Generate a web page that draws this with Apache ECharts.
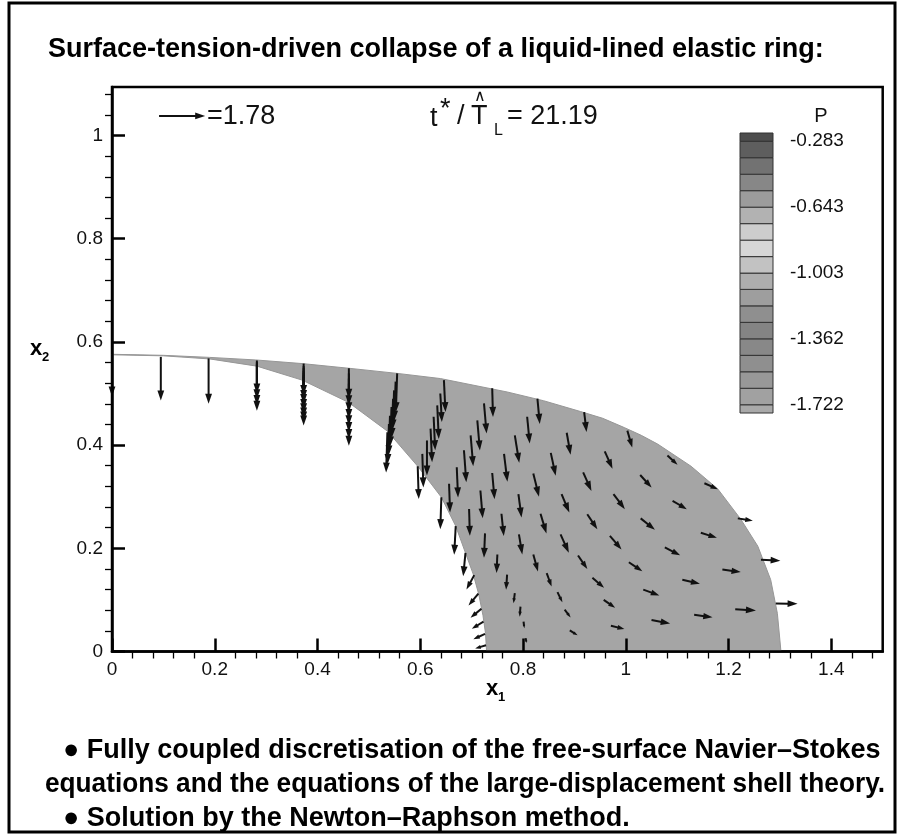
<!DOCTYPE html>
<html>
<head>
<meta charset="utf-8">
<script src="https://cdn.jsdelivr.net/npm/echarts@6/dist/echarts.min.js"></script>
<style>
  html, body { margin: 0; padding: 0; background: #fff; }
  #chart { width: 909px; height: 835px; }
</style>
</head>
<body>
<div id="chart"></div>
<script>
// ---- axes ----
var xTicks = [0, 0.2, 0.4, 0.6, 0.8, 1, 1.2, 1.4];
var yTicks = [0, 0.2, 0.4, 0.6, 0.8, 1];
var X_MAX = 1.5, Y_MAX = 1.094;

// ---- liquid film: wall (outer) and free surface (inner) ----
var outerX = [0, 0.10, 0.19, 0.28, 0.37, 0.46, 0.555, 0.639, 0.769, 0.84, 0.912, 0.955, 0.997, 1.03, 1.062, 1.127, 1.179, 1.224, 1.257, 1.282, 1.295, 1.302];
var outerY = [0.576, 0.574, 0.570, 0.565, 0.558, 0.549, 0.539, 0.529, 0.503, 0.486, 0.465, 0.452, 0.434, 0.419, 0.402, 0.359, 0.315, 0.256, 0.204, 0.139, 0.074, 0];
var innerX = [0, 0.10, 0.19, 0.282, 0.37, 0.46, 0.536, 0.595, 0.641, 0.669, 0.688, 0.703, 0.714, 0.722, 0.727, 0.729];
var innerY = [0.575, 0.573, 0.567, 0.553, 0.526, 0.483, 0.427, 0.359, 0.299, 0.243, 0.191, 0.150, 0.110, 0.070, 0.035, 0];

// ---- velocity vectors [x, y, u, v] ----
var keyArrow = [[0.0916, 1.038, 1.78, 0]];
var VEL = 0.0504; // data units per velocity unit (1.78 -> key arrow length)

// thin film columns (nodes stacked across the film)
var filmArrows = [
  [0, 0.575, 0, -1.6],
  [0.095, 0.571, 0, -1.68],
  [0.188, 0.568, 0, -1.74],
  [0.282, 0.564, 0, -1.27], [0.282, 0.561, 0, -1.43], [0.282, 0.558, 0, -1.59], [0.282, 0.555, 0, -1.75],
  [0.373, 0.558, 0, -1.21], [0.373, 0.553, 0, -1.3], [0.373, 0.549, 0, -1.38], [0.373, 0.544, 0, -1.47],
  [0.373, 0.540, 0, -1.55], [0.373, 0.535, 0, -1.62], [0.373, 0.531, 0, -1.69], [0.373, 0.526, 0, -1.75],
  [0.461, 0.549, 0, -1.17], [0.461, 0.539, 0, -1.23], [0.461, 0.529, 0, -1.3], [0.461, 0.519, 0, -1.36],
  [0.461, 0.510, 0, -1.42], [0.461, 0.500, 0, -1.48], [0.461, 0.490, 0, -1.55], [0.461, 0.480, 0, -1.61],
  [0.555, 0.539, -0.05, -1.49], [0.552, 0.523, -0.05, -1.5], [0.549, 0.506, -0.05, -1.5], [0.547, 0.490, -0.05, -1.51],
  [0.544, 0.474, -0.05, -1.52], [0.541, 0.457, -0.05, -1.53], [0.539, 0.441, -0.05, -1.54], [0.536, 0.425, -0.05, -1.55],
  [0.646, 0.526, 0.06, -1.23], [0.639, 0.500, 0.06, -1.10], [0.633, 0.477, 0.06, -1.29], [0.626, 0.455, 0.06, -1.29],
  [0.620, 0.432, 0.06, -1.29], [0.613, 0.409, 0, -1.35], [0.604, 0.383, 0.04, -1.29], [0.595, 0.359, 0.04, -1.26]
];

// thick region, one column of the mesh per line (wall -> free surface)
var bulkArrows = [
  [0.740, 0.510, 0.03, -1.10], [0.724, 0.481, 0.10, -1.16], [0.711, 0.448, 0.10, -1.16], [0.698, 0.419, 0.10, -1.19],
  [0.685, 0.390, 0.09, -1.23], [0.671, 0.357, 0.05, -1.16], [0.656, 0.325, 0.04, -1.10], [0.641, 0.299, -0.04, -1.23],
  [0.828, 0.490, 0.09, -0.97], [0.808, 0.455, 0.10, -1.03], [0.784, 0.419, 0.17, -1.06], [0.763, 0.383, 0.13, -1.07],
  [0.740, 0.346, 0.09, -1.01], [0.717, 0.312, 0.09, -1.07], [0.695, 0.276, 0.03, -1.03], [0.669, 0.243, -0.06, -1.10],
  [0.919, 0.464, 0.09, -0.77], [0.885, 0.424, 0.15, -0.85], [0.854, 0.385, 0.19, -0.88], [0.820, 0.345, 0.22, -0.89],
  [0.791, 0.305, 0.12, -0.90], [0.758, 0.267, 0.09, -0.86], [0.726, 0.229, -0.04, -0.94], [0.688, 0.191, -0.09, -0.90],
  [1.003, 0.428, 0.19, -0.65], [0.959, 0.388, 0.30, -0.67], [0.917, 0.347, 0.32, -0.71], [0.875, 0.305, 0.30, -0.71],
  [0.834, 0.267, 0.23, -0.76], [0.792, 0.227, 0.13, -0.77], [0.750, 0.188, -0.03, -0.71],
  [1.081, 0.380, 0.39, -0.36], [1.028, 0.342, 0.44, -0.48], [0.976, 0.305, 0.44, -0.58], [0.925, 0.266, 0.39, -0.58],
  [0.873, 0.227, 0.32, -0.71], [0.820, 0.188, 0.18, -0.65], [0.769, 0.149, -0.04, -0.58],
  [1.153, 0.326, 0.52, -0.23], [1.091, 0.292, 0.55, -0.32], [1.029, 0.258, 0.55, -0.44], [0.969, 0.224, 0.45, -0.52],
  [0.907, 0.186, 0.36, -0.52], [0.846, 0.152, 0.19, -0.52], [0.784, 0.113, -0.05, -0.39],
  [1.218, 0.258, 0.58, -0.09], [1.146, 0.230, 0.62, -0.19], [1.076, 0.202, 0.59, -0.31], [1.006, 0.173, 0.52, -0.35],
  [0.935, 0.143, 0.45, -0.39], [0.867, 0.115, 0.19, -0.39], [0.795, 0.087, -0.03, -0.39],
  [1.263, 0.178, 0.75, -0.04], [1.188, 0.159, 0.71, -0.10], [1.110, 0.139, 0.68, -0.15], [1.034, 0.120, 0.62, -0.23],
  [0.957, 0.100, 0.44, -0.30], [0.881, 0.081, 0.23, -0.30], [0.801, 0.058, 0.03, -0.26],
  [1.292, 0.093, 0.84, -0.01], [1.213, 0.082, 0.80, -0.05], [1.133, 0.071, 0.71, -0.09], [1.050, 0.061, 0.72, -0.13],
  [0.971, 0.050, 0.52, -0.13], [0.891, 0.041, 0.30, -0.19], [0.805, 0.026, 0.04, -0.19]
];

// free-surface nodes near the symmetry line
var surfaceArrows = [
  [0.705, 0.148, -0.30, -0.55], [0.713, 0.112, -0.38, -0.45], [0.719, 0.083, -0.42, -0.35],
  [0.723, 0.058, -0.45, -0.28], [0.726, 0.034, -0.45, -0.20], [0.728, 0.012, -0.42, -0.12]
];

// ---- pressure legend ----
var pLevels = [-1.767, -1.722, -1.632, -1.542, -1.452, -1.362, -1.272, -1.182, -1.092, -1.003,
               -0.913, -0.823, -0.733, -0.643, -0.553, -0.463, -0.373, -0.283, -0.238];
var pLabels = [-1.722, -1.362, -1.003, -0.643, -0.283];
var bandColors = ['#a9a9a9', '#a1a1a1', '#989898', '#8f8f8f', '#888888', '#848484', '#8f8f8f', '#9e9e9e', '#aeaeae',
                  '#c2c2c2', '#d6d6d6', '#cdcdcd', '#b2b2b2', '#9c9c9c', '#878787', '#727272', '#5e5e5e', '#4d4d4d'];

var allArrows = filmArrows.concat(bulkArrows, surfaceArrows);
var bands = [];
for (var i = 0; i < bandColors.length; i++) bands.push([pLevels[i], pLevels[i + 1], i]);

var xMinor = [], yMinor = [];
for (var t = 0.04; t < X_MAX - 0.001; t += 0.04) if (Math.abs(t / 0.2 - Math.round(t / 0.2)) > 0.01) xMinor.push(+t.toFixed(2));
for (var t2 = 0.04; t2 < Y_MAX - 0.001; t2 += 0.04) if (Math.abs(t2 / 0.2 - Math.round(t2 / 0.2)) > 0.01) yMinor.push(+t2.toFixed(2));

var chart = echarts.init(document.getElementById('chart'));

function drawArrow(params, api) {
  var x = api.value(0), y = api.value(1), u = api.value(2), v = api.value(3);
  var p0 = api.coord([x, y]);
  var p1 = api.coord([x + u * VEL, y + v * VEL]);
  var dx = p1[0] - p0[0], dy = p1[1] - p0[1];
  var len = Math.sqrt(dx * dx + dy * dy);
  if (len < 0.5) return;
  var ux = dx / len, uy = dy / len;
  var hl = Math.min(10, len * 0.5), hw = hl * 0.34;
  var bx = p1[0] - ux * hl, by = p1[1] - uy * hl;
  return {
    type: 'group',
    children: [
      { type: 'line', shape: { x1: p0[0], y1: p0[1], x2: bx + ux, y2: by + uy }, style: { stroke: '#111', lineWidth: 2 } },
      { type: 'polygon', shape: { points: [[p1[0], p1[1]], [bx - uy * hw, by + ux * hw], [bx + uy * hw, by - ux * hw]] },
        style: { fill: '#111' } }
    ]
  };
}

var fontTick = '"Liberation Sans", Arial, Helvetica, sans-serif';

function txt(x, y, s, font, extra) {
  var st = { x: x, y: y, text: s, font: font, fill: '#111', textVerticalAlign: 'middle' };
  if (extra) for (var k in extra) st[k] = extra[k];
  return { type: 'text', style: st };
}

var option = {
  animation: false,
  grid: [
    { left: 112, top: 87, width: 770.7, height: 564.5, show: true, borderColor: '#000', borderWidth: 2.5, backgroundColor: 'transparent' },
    { left: 740, top: 133, width: 33, height: 280 }
  ],
  xAxis: [
    { gridIndex: 0, type: 'value', min: 0, max: X_MAX, z: 5,
      axisLine: { onZero: false, lineStyle: { color: '#000', width: 2.5 } },
      axisTick: { inside: true, length: 13, customValues: xTicks, lineStyle: { color: '#000', width: 2.5 } },
      axisLabel: { customValues: xTicks, margin: 9, color: '#111', fontSize: 19, fontFamily: fontTick,
        formatter: function (v) { return String(+(+v).toFixed(1)); } },
      splitLine: { show: false } },
    { gridIndex: 0, type: 'value', min: 0, max: X_MAX, z: 5,
      axisLine: { show: false },
      axisTick: { inside: true, length: 7, customValues: xMinor, lineStyle: { color: '#000', width: 1.3 } },
      axisLabel: { show: false }, splitLine: { show: false } },
    { gridIndex: 1, type: 'value', min: 0, max: 1, show: false }
  ],
  yAxis: [
    { gridIndex: 0, type: 'value', min: 0, max: Y_MAX, z: 5,
      axisLine: { onZero: false, lineStyle: { color: '#000', width: 2.5 } },
      axisTick: { inside: true, length: 13, customValues: yTicks, lineStyle: { color: '#000', width: 2.5 } },
      axisLabel: { customValues: yTicks, margin: 9, color: '#111', fontSize: 19, fontFamily: fontTick,
        formatter: function (v) { return String(+(+v).toFixed(1)); } },
      splitLine: { show: false } },
    { gridIndex: 0, type: 'value', min: 0, max: Y_MAX, z: 5,
      axisLine: { show: false },
      axisTick: { inside: true, length: 7, customValues: yMinor, lineStyle: { color: '#000', width: 1.3 } },
      axisLabel: { show: false }, splitLine: { show: false } },
    { gridIndex: 1, type: 'value', min: pLevels[0], max: pLevels[pLevels.length - 1], position: 'right',
      axisLine: { show: false }, axisTick: { show: false }, splitLine: { show: false },
      axisLabel: { customValues: pLabels, margin: 17, color: '#111', fontSize: 19, fontFamily: fontTick,
        formatter: function (v) { return (+v).toFixed(3); } } }
  ],
  series: [
    { type: 'custom', name: 'film', xAxisIndex: 0, yAxisIndex: 0, z: 1, data: [[0, 0]],
      renderItem: function (params, api) {
        var pts = [];
        for (var i = 0; i < outerX.length; i++) pts.push(api.coord([outerX[i], outerY[i]]));
        for (var j = innerX.length - 1; j >= 0; j--) pts.push(api.coord([innerX[j], innerY[j]]));
        return { type: 'polygon', shape: { points: pts }, style: { fill: '#a5a5a5', stroke: '#969696', lineWidth: 1 } };
      } },
    { type: 'custom', name: 'velocity', xAxisIndex: 0, yAxisIndex: 0, z: 3, data: allArrows, renderItem: drawArrow },
    { type: 'custom', name: 'key', xAxisIndex: 0, yAxisIndex: 0, z: 3, data: keyArrow, renderItem: drawArrow },
    { type: 'custom', name: 'P', xAxisIndex: 2, yAxisIndex: 2, z: 3, data: bands,
      renderItem: function (params, api) {
        var a = api.coord([0, api.value(1)]);
        var b = api.coord([1, api.value(0)]);
        return { type: 'rect', shape: { x: a[0], y: a[1], width: b[0] - a[0], height: b[1] - a[1] },
          style: { fill: bandColors[api.value(2)], stroke: '#333', lineWidth: 1 } };
      } }
  ],
  graphic: [
    { type: 'rect', shape: { x: 9, y: 3, width: 886, height: 829 }, style: { fill: 'none', stroke: '#000', lineWidth: 3 }, z: 10 },
    txt(48, 50, 'Surface-tension-driven collapse of a liquid-lined elastic ring:', 'bold 27px ' + fontTick, { fill: '#000' }),
    txt(207, 117, '=1.78', '27px ' + fontTick),
    txt(430, 119, 't', '27px ' + fontTick),
    txt(440, 110, '*', '27px ' + fontTick),
    txt(457, 117, '/', '27px ' + fontTick),
    txt(471, 117, 'T', '27px ' + fontTick),
    txt(479.5, 97, '\u2227', '16px ' + fontTick, { textAlign: 'center' }),
    txt(494, 131, 'L', '16px ' + fontTick),
    txt(507, 117, '= 21.19', '27px ' + fontTick),
    txt(821, 116, 'P', '20px ' + fontTick, { textAlign: 'center' }),
    txt(486, 689, 'x', 'bold 22px ' + fontTick, { fill: '#000' }),
    txt(498, 697, '1', 'bold 13px ' + fontTick, { fill: '#000' }),
    txt(30, 349, 'x', 'bold 22px ' + fontTick, { fill: '#000' }),
    txt(42, 357, '2', 'bold 13px ' + fontTick, { fill: '#000' }),
    txt(63, 751, '\u25CF Fully coupled discretisation of the free-surface Navier\u2013Stokes', 'bold 27px ' + fontTick, { fill: '#000' }),
    { type: 'text', x: 45, y: 785, scaleX: 0.971,
      style: { x: 0, y: 0, text: 'equations and the equations of the large-displacement shell theory.',
        font: 'bold 27px ' + fontTick, fill: '#000', textVerticalAlign: 'middle' } },
    txt(63, 819, '\u25CF Solution by the Newton\u2013Raphson method.', 'bold 27px ' + fontTick, { fill: '#000' })
  ]
};

chart.setOption(option);
</script>
</body>
</html>
